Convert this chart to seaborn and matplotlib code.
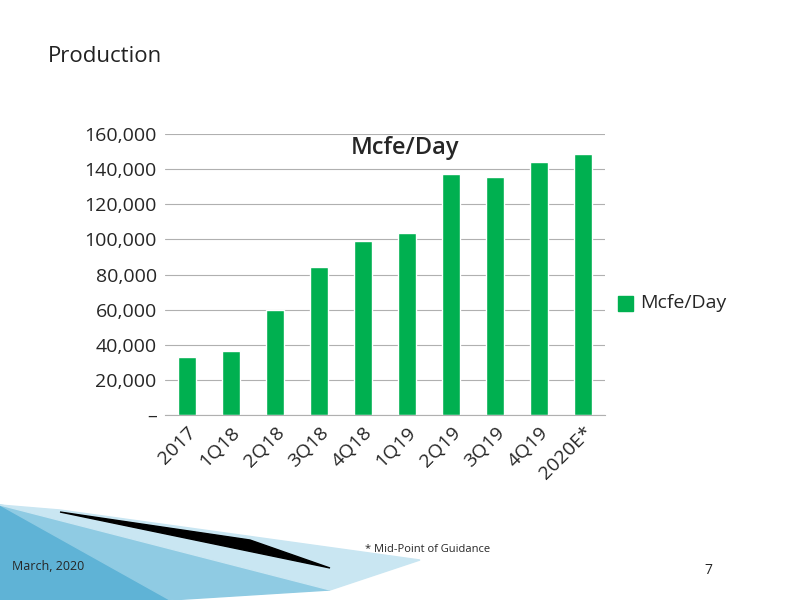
import matplotlib
matplotlib.use("Agg")
import matplotlib.pyplot as plt
import seaborn as sns
import pandas as pd
from matplotlib.patches import Polygon

categories = ["2017", "1Q18", "2Q18", "3Q18", "4Q18", "1Q19", "2Q19", "3Q19", "4Q19", "2020E*"]
values = [33000, 36500, 60000, 84000, 98800, 103500, 137500, 135500, 144000, 148500]
yticks = [0, 20000, 40000, 60000, 80000, 100000, 120000, 140000, 160000]
ytick_labels = ["–", "20,000", "40,000", "60,000", "80,000", "100,000", "120,000", "140,000", "160,000"]

sns.set_style("white")
plt.rcParams['font.family'] = ['Open Sans', 'DejaVu Sans']
green = "#00B050"

fig = plt.figure(figsize=(8, 6), dpi=100)
ax = fig.add_axes([165/800, 1-415/600, 440/800, 281/600])
df = pd.DataFrame({"cat": categories, "val": values})
sns.barplot(data=df, x="cat", y="val", color=green, saturation=1, width=0.42, ax=ax)
ax.set_ylim(0, 160000)
ax.set_yticks(yticks)
ax.set_yticklabels(ytick_labels, fontsize=14)
ax.set_xticks(range(len(categories)))
ax.set_xticklabels(categories, rotation=45, ha="right", rotation_mode="anchor", fontsize=14)
ax.set_xlabel(""); ax.set_ylabel("")
ax.yaxis.grid(True, color="#b0b0b0", linewidth=0.8)
ax.set_axisbelow(True)
for s in ["top", "right", "left"]:
    ax.spines[s].set_visible(False)
ax.spines["bottom"].set_color("#b0b0b0")
ax.tick_params(axis="both", length=0, pad=6)
ax.text(0.545, 0.95, "Mcfe/Day", transform=ax.transAxes, ha="center", va="center", fontsize=17, fontweight="semibold")

fig.text(48/800, 1-57/600, "Production", fontsize=16, va="center", color="#222222")
fig.patches.append(plt.Rectangle((618/800, 1-311/600), 15/800, 15/600, color=green, transform=fig.transFigure, figure=fig))
fig.text(640/800, 1-303/600, "Mcfe/Day", fontsize=14, va="center")
fig.text(365/800, 1-550/600, "* Mid-Point of Guidance", fontsize=8, va="center")
fig.text(12/800, 1-566/600, "March, 2020", fontsize=9, va="center")
fig.text(712/800, 1-570/600, "7", fontsize=10, va="center", ha="right")

def P(pts, c):
    fig.patches.append(Polygon([(x/800, 1-y/600) for x, y in pts], closed=True, color=c,
                               transform=fig.transFigure, figure=fig))
P([(0, 505), (0, 600), (170, 600)], "#5fb3d6")
P([(0, 505), (60, 515), (330, 590), (170, 600)], "#8fcbe3")
P([(0, 505), (60, 510), (420, 560), (330, 590)], "#c9e6f2")
P([(60, 512), (250, 540), (330, 568)], "#000000")

fig.savefig("out.png", dpi=100)
